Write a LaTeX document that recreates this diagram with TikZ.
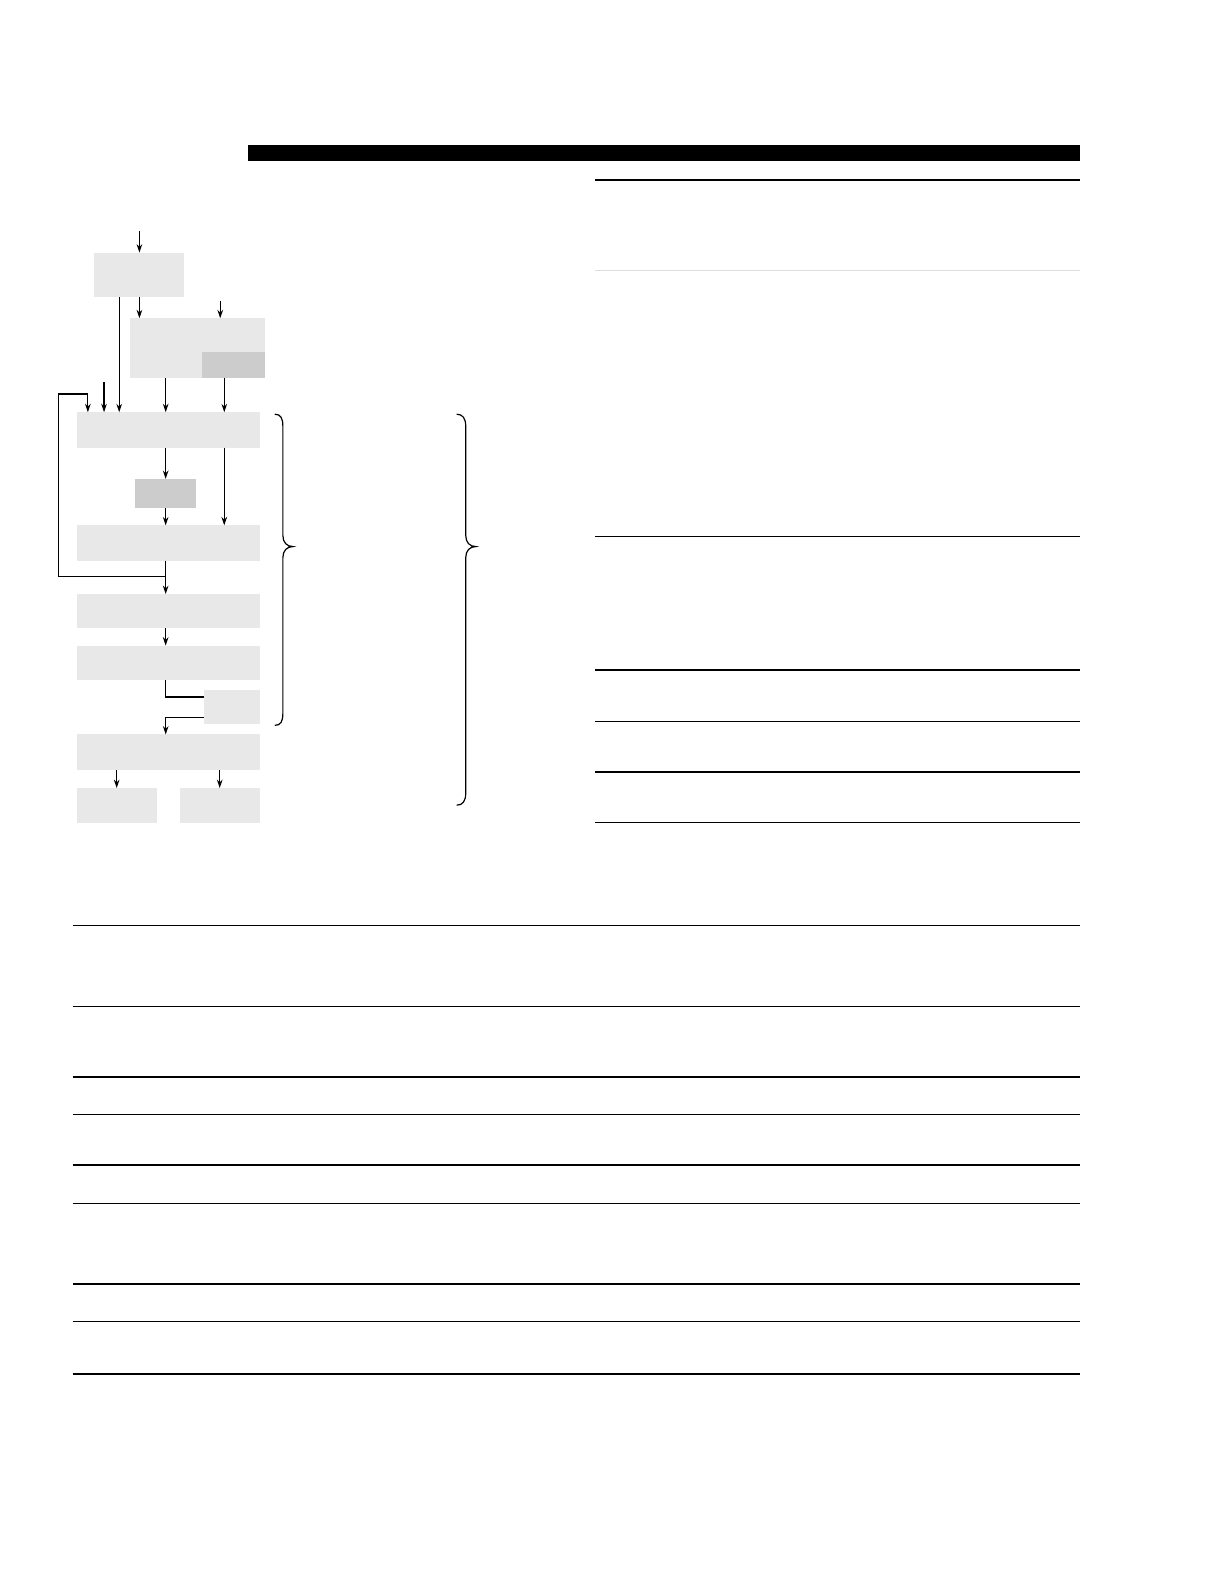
\documentclass[tikz,border=0pt]{standalone}
\usetikzlibrary{arrows.meta}
\definecolor{boxgray}{HTML}{E8E8E8}
\definecolor{boxdark}{HTML}{CCCCCC}
\definecolor{rulegray}{HTML}{DDDDDD}
\begin{document}
\begin{tikzpicture}
		[x=0.50515pt,y=-0.50515pt,
			boxLight/.style={fill=boxgray,inner sep=0pt,outer sep=0pt},
			boxDark/.style={fill=boxdark,inner sep=0pt,outer sep=0pt},
			arrowDecorate/.style={-{Stealth[length=4.2pt,width=2.8pt]},line width=0.6pt},
			lineDecorate/.style={-,line width=0.6pt},
			ruleDecorate/.style={-,line width=0.7pt}]
		\useasboundingbox (0,0) rectangle (1211.5,1567.9);
		% boxes of the flow chart
		\foreach \boxname/\xa/\ya/\xb/\yb/\boxstyle in {
				a/93/250/182/294/boxLight, b/129/315/262/374/boxLight,
				bin/200/348/262/374/boxDark, c/76/408/257/443/boxLight,
				d/134/474/194/503/boxDark, e/76/520/257/555/boxLight,
				f/76/588/257/622/boxLight, g/76/639/257/673/boxLight,
				h/202/683/257/717/boxLight, i/76/727/257/762/boxLight,
				j/76/780/155/815/boxLight, k/178/780/257/815/boxLight}
			{
				\node (\boxname) at ({(\xa+\xb)/2},{(\ya+\yb)/2}) [\boxstyle,
					minimum width={(\xb-\xa)*0.50515pt}, minimum height={(\yb-\ya)*0.50515pt}] {};
			}
		% free ends and columns
		\coordinate (inA) at (138,229);
		\coordinate (inB) at (218,298);
		\coordinate (inC) at (103,378);
		\coordinate (split) at (164,571);
		\coordinate (loopTurn) at (58,390);
		\coordinate (loopTop) at (87,390);
		\coordinate (hIn) at (202,690);
		\coordinate (hOut) at (202,710);
		\foreach \colname/\x in {x118/118, x138/138, x164/164, x222/222}
			{
				\coordinate (\colname) at (\x,0);
			}
		% connectors
		\draw[arrowDecorate] (inA) -- (inA |- a.north);
		\draw[arrowDecorate] (inB) -- (inB |- b.north);
		\draw[arrowDecorate] (inC) -- (inC |- c.north);
		\foreach \startnode/\endnode/\col in {
				a/b/x138, a/c/x118, b/c/x164, bin/c/x222, c/d/x164,
				d/e/x164, c/e/x222, e/f/x164, f/g/x164}
			{
				\draw[arrowDecorate] (\startnode.south -| \col) -- (\endnode.north -| \col);
			}
		\draw[arrowDecorate] (split) -| (loopTurn) -| (c.north -| loopTop);
		\draw[lineDecorate] (g.south -| x164) |- (hIn);
		\draw[arrowDecorate] (hOut) -| (i.north -| x164);
		\draw[arrowDecorate] (i.south -| j.north) -- (j.north);
		\draw[arrowDecorate] (i.south -| k.north) -- (k.north);
		% braces
		\draw[lineDecorate] (272,410) .. controls (278,410) and (280,414) .. (280,422)
			-- (280,530) .. controls (280,537) and (284,541) .. (290,541)
			.. controls (284,541) and (280,545) .. (280,552)
			-- (280,706) .. controls (280,714) and (278,718) .. (272,718);
		\draw[lineDecorate] (452,410) .. controls (458,410) and (461,414) .. (461,422)
			-- (461,530) .. controls (461,537) and (465,541) .. (471,541)
			.. controls (465,541) and (461,545) .. (461,552)
			-- (461,785) .. controls (461,793) and (458,797) .. (452,797);
		% rules
		\fill (245,144) rectangle (1069,159);
		\foreach \y in {178,531,663,714,764,814}
			{
				\draw[ruleDecorate] (589,\y) -- (1069,\y);
			}
		\draw[ruleDecorate,rulegray] (589,268) -- (1069,268);
		\foreach \y in {916,996,1066,1103,1153,1191,1271,1308,1360}
			{
				\draw[ruleDecorate] (72,\y) -- (1069,\y);
			}
	\end{tikzpicture}
\end{document}
